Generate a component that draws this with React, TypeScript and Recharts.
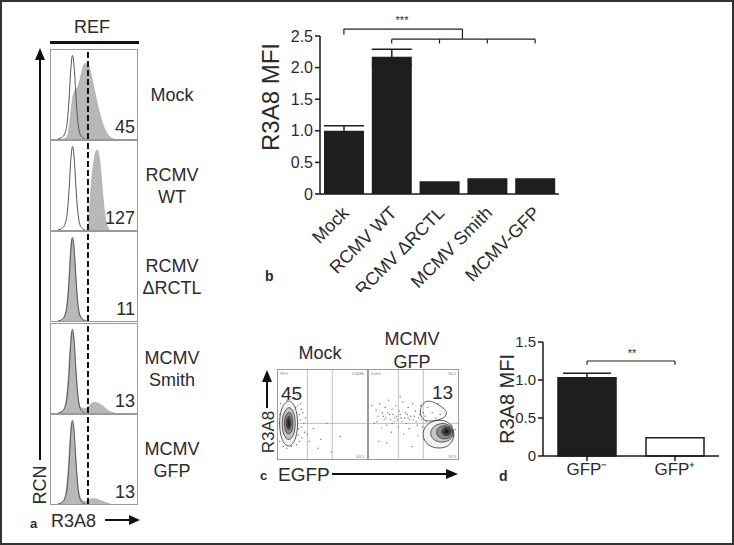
import React from 'react';
import {
  Area, Bar, BarChart, Cell, ComposedChart, ErrorBar, Line, ReferenceLine,
  Scatter, ScatterChart, XAxis, YAxis,
} from 'recharts';

const FONT = '"Liberation Sans", Arial, sans-serif';
const INK = '#2b2b2b';

// panel b
const infections = ['Mock', 'RCMV WT', 'RCMV \u0394RCTL', 'MCMV Smith', 'MCMV-GFP'];
const mfiB = [1.0, 2.17, 0.2, 0.25, 0.25];
const semB = [0.08, 0.12, 0, 0, 0];
const ticksB = [0, 0.5, 1, 1.5, 2, 2.5];

// panel d
const gfpGroups = ['GFP\u207B', 'GFP\u207A'];
const mfiD = [1.03, 0.24];
const semD = [0.06, 0];
const ticksD = [0, 0.5, 1, 1.5];

// panel a - histograms, [fluorescence %, relative count %]
const histLabels = [['Mock'], ['RCMV', 'WT'], ['RCMV', '\u0394RCTL'], ['MCMV', 'Smith'], ['MCMV', 'GFP']];
const histMfi = ['45', '127', '11', '13', '13'];
const isotype = [[8, 0], [13, 2], [16, 6], [19, 20], [21, 45], [23, 78], [25, 94], [27, 80], [29, 48], [31, 22], [33, 8], [36, 2], [40, 0]];
const mockHist = [[15, 0], [19, 3], [22, 20], [25, 45], [28, 55], [31, 58], [34, 68], [37, 80], [40, 85], [43, 84], [46, 75], [49, 62], [52, 48], [55, 35], [58, 24], [61, 15], [64, 8], [67, 4], [70, 1], [74, 0]];
const wtHist = [[42, 0], [44, 10], [46, 40], [48, 62], [50, 78], [52, 88], [54, 90], [56, 82], [58, 65], [60, 42], [62, 22], [64, 9], [66, 3], [68, 0]];
const rctlHist = [[10, 0], [14, 3], [17, 10], [20, 35], [22, 70], [24, 92], [26, 90], [28, 65], [30, 35], [32, 15], [35, 5], [40, 1], [45, 0]];
const smithHist = [[10, 0], [14, 3], [17, 12], [20, 40], [22, 72], [24, 92], [26, 88], [28, 62], [30, 35], [32, 15], [35, 6], [40, 5], [45, 9], [50, 12], [55, 11], [60, 8], [65, 4], [70, 1], [74, 0]];
const gfpHist = [[10, 0], [14, 3], [17, 12], [20, 40], [22, 72], [24, 92], [26, 88], [28, 62], [30, 35], [32, 15], [35, 6], [40, 3], [45, 5], [50, 6], [55, 5], [60, 3], [65, 1], [70, 0]];
const samples = [mockHist, wtHist, rctlHist, smithHist, gfpHist];
const refGate = 43;

// panel c - contour plots, [EGFP %, R3A8 %]
const mockDots = [[4, 30], [6, 52], [8, 60], [9, 24], [10, 66], [11, 38], [12, 28], [13, 56], [14, 48], [15, 35], [16, 62], [17, 22], [18, 44], [19, 54], [20, 32], [21, 40], [22, 60], [23, 27], [24, 50], [7, 42], [5, 46], [9, 70], [12, 18], [16, 68], [19, 26], [25, 44], [26, 36], [3, 38], [28, 52], [30, 30], [35, 20], [14, 40], [11, 50], [17, 30], [20, 58], [45, 12], [70, 25], [60, 8], [4, 56], [8, 34], [2, 20], [3, 62], [6, 14], [10, 12], [15, 14], [21, 16], [24, 20], [27, 24], [6, 70], [13, 74], [19, 68], [25, 62], [29, 40], [31, 46], [22, 72], [2, 50], [9, 46], [16, 52], [18, 36], [5, 36], [23, 34], [26, 56], [33, 28], [40, 34], [48, 22], [55, 40]];
const mockRings = [
  [[23, 40], [20, 60], [12, 68], [3, 58], [1, 38], [4, 20], [12, 12], [20, 20]],
  [[20, 40], [18, 54], [12, 60], [6, 52], [4, 40], [6, 26], [12, 20], [18, 26]],
  [[17, 40], [16, 50], [12, 54], [8, 48], [7, 40], [8, 31], [12, 27], [16, 31]],
  [[15, 40], [14, 46], [12, 49], [10, 45], [9, 40], [10, 35], [12, 32], [14, 35]],
  [[13.5, 40], [13, 43], [12, 45], [11, 43], [10.5, 40], [11, 37], [12, 35], [13, 37]],
];
const gfpDots = [[6, 40], [8, 55], [10, 48], [12, 62], [14, 35], [15, 52], [17, 44], [18, 58], [20, 38], [22, 66], [23, 50], [25, 30], [26, 56], [28, 42], [30, 60], [31, 48], [33, 36], [34, 54], [36, 46], [38, 64], [39, 28], [41, 52], [42, 40], [44, 58], [45, 34], [47, 48], [49, 62], [50, 44], [52, 54], [54, 38], [55, 26], [57, 50], [58, 60], [60, 36], [62, 22], [63, 48], [65, 30], [66, 58], [68, 40], [70, 20], [71, 52], [73, 34], [75, 46], [76, 16], [78, 62], [80, 50], [3, 60], [11, 20], [20, 18], [35, 70], [48, 14], [68, 30], [72, 24], [74, 38], [79, 18], [83, 42], [88, 20], [93, 38], [95, 26], [97, 33], [66, 36], [16, 48], [19, 46], [24, 44], [27, 50], [29, 46], [32, 44], [35, 50], [37, 42], [40, 46], [43, 50], [46, 44], [51, 48], [53, 42], [56, 46], [59, 44], [61, 52], [64, 42], [9, 42], [21, 52], [26, 40], [44, 46]];
const gfpRings = [
  [[97, 28], [92, 41], [79, 45], [64, 40], [59, 27], [65, 15], [79, 11], [92, 15]],
  [[96, 29], [92, 38], [82, 41], [72, 37], [68, 29], [72, 21], [82, 18], [92, 21]],
  [[95, 30], [92, 36], [85, 38], [78, 36], [75, 30], [78, 24], [85, 22], [92, 24]],
  [[93, 31], [91, 35], [87, 36], [83, 35], [81, 31], [83, 27], [87, 26], [91, 27]],
  [[90, 31], [89, 33], [87, 34], [85, 33], [84, 31], [85, 29], [87, 28], [89, 29]],
  [[57, 48], [58, 60], [64, 66], [74, 64], [82, 58], [88, 54], [86, 46], [74, 43], [64, 42]],
];
const ringFills = ['#f2f2f2', '#c4c4c4', '#8a8a8a', '#4a4a4a', '#1c1c1c', 'none'];
const quadLines = [33, 61];
const quadSplit = 40;

const toPts = (arr: number[][]) => arr.map(([x, y]) => ({ x, y }));

function mergeCurves(sample: number[][], ctrl: number[][]) {
  const xs = Array.from(new Set([...sample.map(p => p[0]), ...ctrl.map(p => p[0])])).sort((a, b) => a - b);
  return xs.map(x => ({
    x,
    sample: sample.find(p => p[0] === x)?.[1],
    ctrl: ctrl.find(p => p[0] === x)?.[1],
  }));
}

const txt = (extra: React.CSSProperties = {}): React.CSSProperties => ({
  position: 'absolute', fontFamily: FONT, color: INK, whiteSpace: 'nowrap', lineHeight: 1, ...extra,
});

function Histogram({ index }: { index: number }) {
  const data = mergeCurves(samples[index], isotype);
  return (
    <div style={{ position: 'absolute', left: 48, top: 47 + index * 91.2, width: 88, height: 91, border: '1px solid #9a9a9a', boxSizing: 'border-box', background: '#fff' }}>
      <ComposedChart width={86} height={89} data={data} margin={{ top: 0, right: 0, bottom: 0, left: 0 }}>
        <XAxis type="number" dataKey="x" domain={[0, 100]} hide />
        <YAxis type="number" domain={[0, 100]} hide />
        <Area type="monotone" dataKey="sample" connectNulls fill="#b8b8b8" fillOpacity={1} stroke="#a0a0a0" strokeWidth={0.6} isAnimationActive={false} />
        <Line type="monotone" dataKey="ctrl" connectNulls stroke="#555" strokeWidth={1} dot={false} isAnimationActive={false} />
        <ReferenceLine x={refGate} stroke="#111" strokeWidth={2} strokeDasharray="6 3" />
      </ComposedChart>
    </div>
  );
}

const Dot = (props: any) => <circle cx={props.cx} cy={props.cy} r={0.7} fill="#707070" />;
const NoShape = () => null;

function Contour({ left, dots, rings }: { left: number; dots: number[][]; rings: number[][][] }) {
  return (
    <div style={{ position: 'absolute', left, top: 367, width: 91, height: 91, border: '1px solid #9a9a9a', boxSizing: 'border-box' }}>
      <ScatterChart width={89} height={89} margin={{ top: 0, right: 0, bottom: 0, left: 0 }}>
        <XAxis type="number" dataKey="x" domain={[0, 100]} hide />
        <YAxis type="number" dataKey="y" domain={[0, 100]} hide />
        {quadLines.map(q => <ReferenceLine key={q} x={q} stroke="#b0b0b0" strokeWidth={0.8} />)}
        <ReferenceLine y={quadSplit} stroke="#b0b0b0" strokeWidth={0.8} />
        <Scatter data={toPts(dots)} shape={Dot} isAnimationActive={false} />
        {rings.map((r, i) => (
          <Scatter key={i} data={toPts(r)} shape={NoShape} line={{ stroke: '#333', strokeWidth: 0.8, fill: ringFills[i] }} lineJointType="basisClosed" isAnimationActive={false} />
        ))}
      </ScatterChart>
    </div>
  );
}

const CatTick = (props: any) => {
  const { x, y, payload } = props;
  return (
    <text x={x + 6} y={y + 12} transform={`rotate(-45 ${x + 6} ${y + 12})`} textAnchor="end" fontSize={18} fill={INK} fontFamily={FONT}>
      {infections[payload.value]}
    </text>
  );
};

const fmt = (v: number) => (v === 0 ? '0' : v.toFixed(1));

export default function App() {
  const dataB = infections.map((name, i) => ({ idx: i, name, mfi: mfiB[i], err: semB[i] }));
  const dataD = gfpGroups.map((name, i) => ({ idx: i, name, mfi: mfiD[i], err: semD[i] }));
  const axisStyle = { stroke: '#1a1a1a', strokeWidth: 1.5 };

  return (
    <div style={{ position: 'absolute', left: 0, top: 0, width: 734, height: 545, background: '#fff', border: '2px solid #333', boxSizing: 'border-box', overflow: 'hidden' }}>
      {/* panel a */}
      <div style={txt({ left: 72, top: 16, fontSize: 18 })}>REF</div>
      <div style={{ position: 'absolute', left: 48, top: 39, width: 89, height: 3, background: '#111' }} />
      {[0, 1, 2, 3, 4].map(i => <Histogram key={i} index={i} />)}
      {histMfi.map((m, i) => (
        <div key={m + i} style={txt({ right: 734 - 137, top: 47 + i * 91.2 + 69, fontSize: 18 })}>{m}</div>
      ))}
      {histLabels.map((lines, i) => (
        <div key={i} style={txt({ left: 135, width: 70, top: 47 + i * 91.2 + (lines.length === 1 ? 35 : 24), fontSize: 18, textAlign: 'center', lineHeight: '22px' })}>
          {lines.map(l => <div key={l}>{l}</div>)}
        </div>
      ))}

      {/* panel c */}
      <Contour left={275} dots={mockDots} rings={mockRings} />
      <Contour left={366} dots={gfpDots} rings={gfpRings} />

      {/* panel b */}
      <div style={{ position: 'absolute', left: 250, top: 0 }}>
        <BarChart width={320} height={290} data={dataB} margin={{ top: 34, right: 13, bottom: 0, left: 8 }}>
          <XAxis type="number" dataKey="idx" domain={[-0.5, 4.5]} ticks={[0, 1, 2, 3, 4]} tick={<CatTick />} tickLine={false} axisLine={axisStyle} height={98} interval={0} allowDataOverflow />
          <YAxis type="number" domain={[0, 2.5]} ticks={ticksB} tickFormatter={fmt} width={60} axisLine={axisStyle} tickLine={axisStyle} tickSize={5} tick={{ fontSize: 16, fill: INK, fontFamily: FONT }} />
          <Bar dataKey="mfi" fill="#1e1e1e" barSize={40} isAnimationActive={false}>
            <ErrorBar dataKey="err" width={20} stroke="#1e1e1e" strokeWidth={1.5} direction="y" />
          </Bar>
          <ReferenceLine segment={[{ x: 0, y: 2.52 }, { x: 0, y: 2.61 }]} stroke="#222" strokeWidth={1.2} ifOverflow="visible" />
          <ReferenceLine segment={[{ x: 0, y: 2.61 }, { x: 2.48, y: 2.61 }]} stroke="#222" strokeWidth={1.2} ifOverflow="visible" />
          <ReferenceLine segment={[{ x: 2.48, y: 2.61 }, { x: 2.48, y: 2.45 }]} stroke="#222" strokeWidth={1.2} ifOverflow="visible" />
          <ReferenceLine segment={[{ x: 1, y: 2.45 }, { x: 4, y: 2.45 }]} stroke="#222" strokeWidth={1.2} ifOverflow="visible" />
          {[1, 2, 3, 4].map(k => (
            <ReferenceLine key={k} segment={[{ x: k, y: 2.45 }, { x: k, y: 2.38 }]} stroke="#222" strokeWidth={1.2} ifOverflow="visible" />
          ))}
        </BarChart>
      </div>

      {/* panel d */}
      <div style={{ position: 'absolute', left: 480, top: 320 }}>
        <BarChart width={250} height={170} data={dataD} margin={{ top: 20, right: 13, bottom: 0, left: 5 }}>
          <XAxis type="number" dataKey="idx" domain={[-0.5, 1.5]} ticks={[0, 1]} tickFormatter={(v: number) => gfpGroups[v]} axisLine={axisStyle} tickLine={axisStyle} tickSize={5} height={36} tick={{ fontSize: 17, fill: INK, fontFamily: FONT }} />
          <YAxis type="number" domain={[0, 1.5]} ticks={ticksD} tickFormatter={fmt} width={56} axisLine={axisStyle} tickLine={axisStyle} tickSize={5} tick={{ fontSize: 15, fill: INK, fontFamily: FONT }} />
          <Bar dataKey="mfi" barSize={58} isAnimationActive={false}>
            {dataD.map((d, i) => (
              <Cell key={d.name} fill={i === 0 ? '#1e1e1e' : '#fff'} stroke="#1e1e1e" strokeWidth={1.5} />
            ))}
            <ErrorBar dataKey="err" width={24} stroke="#1e1e1e" strokeWidth={1.5} direction="y" />
          </Bar>
          <ReferenceLine segment={[{ x: 0, y: 1.2 }, { x: 0, y: 1.25 }]} stroke="#222" strokeWidth={1.2} />
          <ReferenceLine segment={[{ x: 0, y: 1.25 }, { x: 1, y: 1.25 }]} stroke="#222" strokeWidth={1.2} />
          <ReferenceLine segment={[{ x: 1, y: 1.25 }, { x: 1, y: 1.2 }]} stroke="#222" strokeWidth={1.2} />
        </BarChart>
      </div>

      <svg width={734} height={545} style={{ position: 'absolute', left: 0, top: 0, pointerEvents: 'none' }}>
        <line x1={38} y1={56} x2={38} y2={458} stroke="#111" strokeWidth={2} />
        <polygon points="38,46 33,58 43,58" fill="#111" />
        <line x1={103} y1={518} x2={130} y2={518} stroke="#111" strokeWidth={2} />
        <polygon points="138,518 127,513 127,523" fill="#111" />
        <text x={44} y={483} transform="rotate(-90 44 483)" textAnchor="middle" fontSize={18} fill={INK} fontFamily={FONT}>RCN</text>
        <text x={28} y={526} fontSize={13} fontWeight="bold" fill={INK} fontFamily={FONT}>a</text>
        <text x={49} y={525} fontSize={18} fill={INK} fontFamily={FONT}>R3A8</text>

        {/* panel b annotations */}
        <text x={277} y={95} transform="rotate(-90 277 95)" textAnchor="middle" fontSize={24} fill={INK} fontFamily={FONT}>R3A8 MFI</text>
        <text x={263} y={279} fontSize={14} fontWeight="bold" fill={INK} fontFamily={FONT}>b</text>
        <text x={400} y={22} textAnchor="middle" fontSize={11} fill={INK} fontFamily={FONT}>***</text>

        {/* panel c annotations */}
        <line x1={265} y1={378} x2={265} y2={406} stroke="#111" strokeWidth={2} />
        <polygon points="265,368 260,380 270,380" fill="#111" />
        <text x={272} y={430} transform="rotate(-90 272 430)" textAnchor="middle" fontSize={17} fill={INK} fontFamily={FONT}>R3A8</text>
        <text x={258} y={478} fontSize={13} fontWeight="bold" fill={INK} fontFamily={FONT}>c</text>
        <text x={276} y={479} fontSize={19} fill={INK} fontFamily={FONT}>EGFP</text>
        <line x1={330} y1={472} x2={446} y2={472} stroke="#111" strokeWidth={2} />
        <polygon points="456,472 444,467 444,477" fill="#111" />
        <text x={318} y={357} textAnchor="middle" fontSize={18} fill={INK} fontFamily={FONT}>Mock</text>
        <text x={410} y={343} textAnchor="middle" fontSize={18} fill={INK} fontFamily={FONT}>MCMV</text>
        <text x={410} y={366} textAnchor="middle" fontSize={18} fill={INK} fontFamily={FONT}>GFP</text>
        <text x={279} y={398} fontSize={19} fill={INK} fontFamily={FONT}>45</text>
        <text x={430} y={397} fontSize={19} fill={INK} fontFamily={FONT}>13</text>
        <text x={278} y={373} fontSize={4} fill="#777" fontFamily={FONT}>99.9</text>
        <text x={362} y={373} textAnchor="end" fontSize={4} fill="#777" fontFamily={FONT}>0.0086</text>
        <text x={362} y={456} textAnchor="end" fontSize={4} fill="#777" fontFamily={FONT}>43.5</text>
        <text x={369} y={373} fontSize={4} fill="#777" fontFamily={FONT}>0.001</text>
        <text x={454} y={373} textAnchor="end" fontSize={4} fill="#777" fontFamily={FONT}>96.2</text>
        <text x={454} y={456} textAnchor="end" fontSize={4} fill="#777" fontFamily={FONT}>93.3</text>

        {/* panel d annotations */}
        <text x={512} y={397} transform="rotate(-90 512 397)" textAnchor="middle" fontSize={20} fill={INK} fontFamily={FONT}>R3A8 MFI</text>
        <text x={497} y={479} fontSize={14} fontWeight="bold" fill={INK} fontFamily={FONT}>d</text>
        <text x={630} y={355} textAnchor="middle" fontSize={11} fill={INK} fontFamily={FONT}>**</text>
      </svg>
    </div>
  );
}
